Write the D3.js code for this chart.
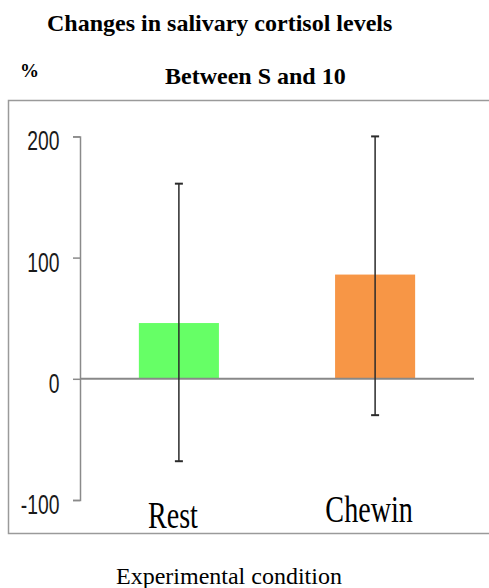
<!DOCTYPE html>
<html lang="en">
<head>
  <meta charset="UTF-8">
  <title>Changes in salivary cortisol levels</title>
  <script src="https://d3js.org/d3.v7.min.js"></script>
  <style>
    body {
      margin: 0;
      padding: 0;
      background: #fff;
    }
    .title {
      font-family: "Liberation Serif", "Times New Roman", serif;
      font-weight: bold;
      font-size: 24px;
      fill: #000;
    }
    .xtitle {
      font-family: "Liberation Serif", "Times New Roman", serif;
      font-size: 24px;
      fill: #000;
    }
    .cat {
      font-family: "Liberation Serif", "Times New Roman", serif;
      font-size: 37px;
      fill: #000;
    }
    .tick-label {
      font-family: "Liberation Sans", Arial, sans-serif;
      font-size: 28px;
      fill: #1a1a1a;
    }
  </style>
</head>
<body>
  <div id="chart"></div>

  <script>
    const categories = ["Rest", "Chewin"];
    const means = [46, 86];
    const errLow = [-68, -30];
    const errHigh = [161, 200];
    const barColors = ["#66FF66", "#F79646"];
    const yTicks = [-100, 0, 100, 200];

    const width = 489;
    const height = 588;

    const svg = d3.select("#chart").append("svg")
      .attr("width", width)
      .attr("height", height);

    // outer frame (right side runs off the page)
    svg.append("rect")
      .attr("x", 8.5)
      .attr("y", 100.5)
      .attr("width", 500)
      .attr("height", 433)
      .attr("fill", "none")
      .attr("stroke", "#9a9a9a")
      .attr("stroke-width", 1.5);

    const x = d3.scaleBand()
      .domain(categories)
      .range([80, 474])
      .paddingInner(0.592)
      .paddingOuter(0.3);

    const y = d3.scaleLinear()
      .domain([-100, 200])
      .range([500, 136.4]);

    // titles
    svg.append("text").attr("class", "title")
      .attr("x", 47).attr("y", 31)
      .text("Changes in salivary cortisol levels");
    svg.append("text").attr("class", "title")
      .attr("x", 165).attr("y", 84)
      .text("Between S and 10");
    svg.append("text").attr("class", "title")
      .attr("x", 20).attr("y", 77)
      .style("font-size", "19px")
      .text("%");

    // y axis
    const yAxis = svg.append("g")
      .attr("transform", "translate(80,0)")
      .call(d3.axisLeft(y).tickValues(yTicks).tickSize(7).tickFormat(""));
    yAxis.select(".domain").attr("stroke", "#8a8a8a").attr("stroke-width", 1.5);
    yAxis.selectAll(".tick line").attr("stroke", "#8a8a8a").attr("stroke-width", 1.5);

    const sx = 0.69;
    svg.append("g").selectAll("text")
      .data(yTicks)
      .join("text")
      .attr("class", "tick-label")
      .attr("text-anchor", "end")
      .attr("transform", d => `translate(59.5,${y(d) + 14}) scale(${sx},1)`)
      .text(d => d);

    // bars
    svg.append("g").selectAll("rect")
      .data(categories)
      .join("rect")
      .attr("x", d => x(d))
      .attr("width", x.bandwidth())
      .attr("y", (d, i) => y(Math.max(0, means[i])))
      .attr("height", (d, i) => Math.abs(y(means[i]) - y(0)))
      .attr("fill", (d, i) => barColors[i]);

    // zero line
    svg.append("line")
      .attr("x1", 80).attr("x2", 474)
      .attr("y1", y(0)).attr("y2", y(0))
      .attr("stroke", "#888")
      .attr("stroke-width", 2);

    // error bars
    const eb = svg.append("g").attr("stroke", "#2b2b2b");
    categories.forEach((c, i) => {
      const cx = x(c) + x.bandwidth() / 2;
      eb.append("line")
        .attr("x1", cx).attr("x2", cx)
        .attr("y1", y(errLow[i])).attr("y2", y(errHigh[i]))
        .attr("stroke-width", 1.5);
      [errLow[i], errHigh[i]].forEach(v => {
        eb.append("line")
          .attr("x1", cx - 4).attr("x2", cx + 4)
          .attr("y1", y(v)).attr("y2", y(v))
          .attr("stroke-width", 2);
      });
    });

    // category labels (narrow serif)
    const cs = 0.76;
    svg.append("g").selectAll("text")
      .data(categories)
      .join("text")
      .attr("class", "cat")
      .attr("text-anchor", "middle")
      .attr("transform", (d, i) => `translate(${x(d) + x.bandwidth() / 2 - 6},${i === 0 ? 528 : 522}) scale(${cs},1)`)
      .text(d => d);

    // x axis title
    svg.append("text").attr("class", "xtitle")
      .attr("x", 116).attr("y", 584)
      .text("Experimental condition");
  </script>
</body>
</html>
